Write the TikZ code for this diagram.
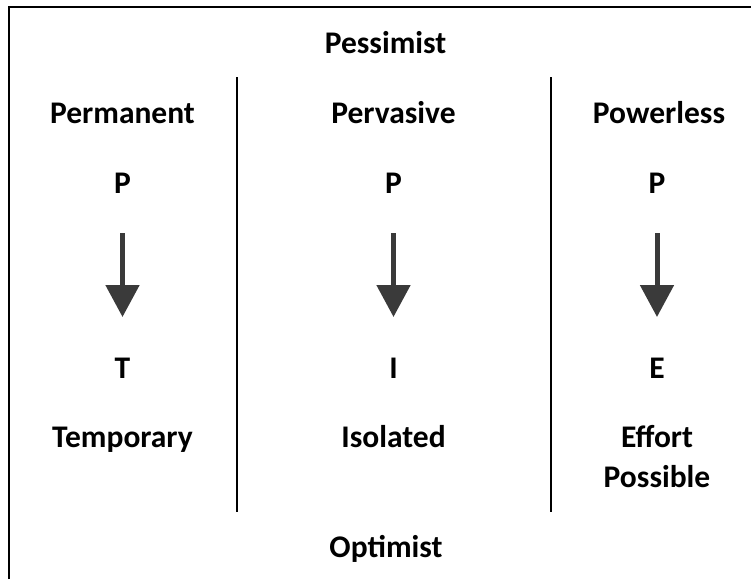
\documentclass[tikz,border=0pt]{standalone}
\usepackage{fontspec}
\setmainfont{Carlito}
\usetikzlibrary{arrows.meta}
\definecolor{arrowgray}{HTML}{3A3A3A}
\tikzset{
  lbl/.style={anchor=base, inner sep=0pt, font=\fontsize{31.5}{38}\selectfont\bfseries, text=black},
  frameline/.style={line width=2pt, black},
  divider/.style={line width=2pt, black},
  bigarrow/.style={line width=5pt, arrowgray, -{Triangle[width=33pt,length=32pt]}, shorten <=40pt, shorten >=61pt}
}
\begin{document}
\begin{tikzpicture}[x=1pt,y=-1pt]
\useasboundingbox (0,0) rectangle (751,579);
% frame (cropped: only top and left edges visible)
\coordinate (fbl) at (9,579);
\coordinate (ftl) at (9,6.7);
\coordinate (ftr) at (751,6.7);
\draw[frameline] (fbl) -- (ftl) -- (ftr);
% dividers
\coordinate (d1t) at (237,77);
\coordinate (d1b) at (237,512);
\coordinate (d2t) at (551,77);
\coordinate (d2b) at (551,512);
\draw[divider] (d1t) -- (d1b);
\draw[divider] (d2t) -- (d2b);
% titles
\node[lbl] (pess) at (385.5,53) {Pessimist};
\node[lbl] (opt) at (386,557) {Optimist};
% column 1
\node[lbl] (h1) at (122.5,123) {Permanent};
\node[lbl] (p1) at (122.5,193) {P};
\node[lbl] (t1) at (122.5,378) {T};
\node[lbl] (w1) at (122.5,447) {Temporary};
% column 2
\node[lbl] (h2) at (393.5,123) {Pervasive};
\node[lbl] (p2) at (393.5,193) {P};
\node[lbl] (t2) at (393.5,378) {I};
\node[lbl] (w2) at (393.5,447) {Isolated};
% column 3
\node[lbl] (h3) at (659,123) {Powerless};
\node[lbl] (p3) at (657,193) {P};
\node[lbl] (t3) at (657,378) {E};
\node[lbl] (w3) at (657,447) {Effort};
\node[lbl] (w3b) at (657,487) {Possible};
% arrows
\draw[bigarrow] (p1.base) -- (t1.base);
\draw[bigarrow] (p2.base) -- (t2.base);
\draw[bigarrow] (p3.base) -- (t3.base);
\end{tikzpicture}
\end{document}
